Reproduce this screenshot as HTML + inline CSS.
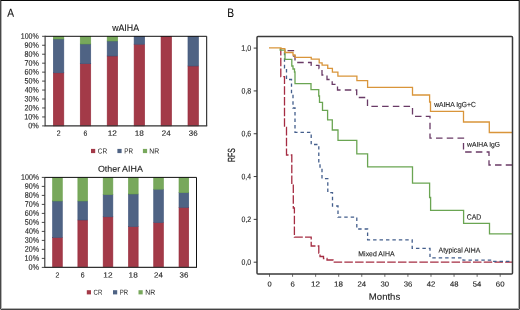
<!DOCTYPE html>
<html><head><meta charset="utf-8"><style>
html,body{margin:0;padding:0;background:#fff;}
svg{display:block;will-change:transform;} text{text-rendering:geometricPrecision;}
</style></head><body>
<svg width="520" height="310" viewBox="0 0 520 310" font-family="'Liberation Sans', sans-serif">
<rect x="0" y="0" width="520" height="310" fill="#fff"/>
<rect x="0" y="0" width="520" height="1" fill="#0a0a0a"/>
<rect x="0" y="0" width="1" height="310" fill="#474747"/>
<rect x="1" y="1" width="1" height="308" fill="#b4b4b4"/>
<rect x="519" y="0" width="1" height="310" fill="#434343"/>
<rect x="518" y="1" width="1" height="308" fill="#b0b0b0"/>
<rect x="0" y="309" width="520" height="1" fill="#434343"/>
<rect x="2" y="308" width="516" height="1" fill="#b0b0b0"/>
<rect x="519" y="309" width="1" height="1" fill="#a8a8a8"/>
<rect x="0" y="309" width="1" height="1" fill="#a8a8a8"/>
<text transform="translate(7.35,16.75) scale(0.893,1) rotate(0.05)" font-size="11.41" fill="#111" stroke="#111" stroke-width="0.12">A</text>
<text transform="translate(227.18,16.90) scale(0.830,1) rotate(0.05)" font-size="12.35" fill="#111" stroke="#111" stroke-width="0.12">B</text>
<rect x="53.32" y="72.80" width="10.5" height="53.10" fill="#a33a48" stroke="#972a3b" stroke-width="0.6"/>
<rect x="53.32" y="39.00" width="10.5" height="33.80" fill="#4f6384" stroke="#3f5479" stroke-width="0.6"/>
<rect x="53.32" y="36.30" width="10.5" height="2.70" fill="#78a85c" stroke="#69a04c" stroke-width="0.6"/>
<text transform="translate(56.64,135.80) scale(0.914,1) rotate(0.05)" font-size="7.59" fill="#222" stroke="#222" stroke-width="0.12">2</text>
<rect x="80.25" y="63.70" width="10.5" height="62.20" fill="#a33a48" stroke="#972a3b" stroke-width="0.6"/>
<rect x="80.25" y="44.00" width="10.5" height="19.70" fill="#4f6384" stroke="#3f5479" stroke-width="0.6"/>
<rect x="80.25" y="36.30" width="10.5" height="7.70" fill="#78a85c" stroke="#69a04c" stroke-width="0.6"/>
<text transform="translate(83.57,135.80) scale(0.902,1) rotate(0.05)" font-size="7.59" fill="#222" stroke="#222" stroke-width="0.12">6</text>
<rect x="107.18" y="56.00" width="10.5" height="69.90" fill="#a33a48" stroke="#972a3b" stroke-width="0.6"/>
<rect x="107.18" y="41.00" width="10.5" height="15.00" fill="#4f6384" stroke="#3f5479" stroke-width="0.6"/>
<rect x="107.18" y="36.30" width="10.5" height="4.70" fill="#78a85c" stroke="#69a04c" stroke-width="0.6"/>
<text transform="translate(107.72,135.80) scale(1.090,1) rotate(0.05)" font-size="7.59" fill="#222" stroke="#222" stroke-width="0.12">12</text>
<rect x="134.12" y="44.20" width="10.5" height="81.70" fill="#a33a48" stroke="#972a3b" stroke-width="0.6"/>
<rect x="134.12" y="36.30" width="10.5" height="7.90" fill="#4f6384" stroke="#3f5479" stroke-width="0.6"/>
<text transform="translate(134.66,135.80) scale(1.083,1) rotate(0.05)" font-size="7.59" fill="#222" stroke="#222" stroke-width="0.12">18</text>
<rect x="161.05" y="36.30" width="10.5" height="89.60" fill="#a33a48" stroke="#972a3b" stroke-width="0.6"/>
<text transform="translate(161.82,135.80) scale(1.041,1) rotate(0.05)" font-size="7.59" fill="#222" stroke="#222" stroke-width="0.12">24</text>
<rect x="187.98" y="66.00" width="10.5" height="59.90" fill="#a33a48" stroke="#972a3b" stroke-width="0.6"/>
<rect x="187.98" y="36.30" width="10.5" height="29.70" fill="#4f6384" stroke="#3f5479" stroke-width="0.6"/>
<text transform="translate(188.85,135.80) scale(1.043,1) rotate(0.05)" font-size="7.59" fill="#222" stroke="#222" stroke-width="0.12">36</text>
<path d="M45.1,36.3 H206.7 V125.9" fill="none" stroke="#111" stroke-width="1"/>
<path d="M45.1,35.8 V125.9 H207.2" fill="none" stroke="#333" stroke-width="1.1"/>
<path d="M42.1,125.90 H45.1" stroke="#333" stroke-width="0.9"/>
<text transform="translate(28.23,128.35) scale(0.923,1) rotate(0.05)" font-size="7.95" fill="#222" stroke="#222" stroke-width="0.12">0%</text>
<path d="M42.1,116.94 H45.1" stroke="#333" stroke-width="0.9"/>
<text transform="translate(24.27,119.39) scale(0.916,1) rotate(0.05)" font-size="7.95" fill="#222" stroke="#222" stroke-width="0.12">10%</text>
<path d="M42.1,107.98 H45.1" stroke="#333" stroke-width="0.9"/>
<text transform="translate(24.46,110.43) scale(0.904,1) rotate(0.05)" font-size="7.95" fill="#222" stroke="#222" stroke-width="0.12">20%</text>
<path d="M42.1,99.02 H45.1" stroke="#333" stroke-width="0.9"/>
<text transform="translate(24.55,101.47) scale(0.898,1) rotate(0.05)" font-size="7.95" fill="#222" stroke="#222" stroke-width="0.12">30%</text>
<path d="M42.1,90.06 H45.1" stroke="#333" stroke-width="0.9"/>
<text transform="translate(24.66,92.51) scale(0.891,1) rotate(0.05)" font-size="7.95" fill="#222" stroke="#222" stroke-width="0.12">40%</text>
<path d="M42.1,81.10 H45.1" stroke="#333" stroke-width="0.9"/>
<text transform="translate(24.53,83.55) scale(0.899,1) rotate(0.05)" font-size="7.95" fill="#222" stroke="#222" stroke-width="0.12">50%</text>
<path d="M42.1,72.14 H45.1" stroke="#333" stroke-width="0.9"/>
<text transform="translate(24.46,74.59) scale(0.904,1) rotate(0.05)" font-size="7.95" fill="#222" stroke="#222" stroke-width="0.12">60%</text>
<path d="M42.1,63.18 H45.1" stroke="#333" stroke-width="0.9"/>
<text transform="translate(24.45,65.63) scale(0.904,1) rotate(0.05)" font-size="7.95" fill="#222" stroke="#222" stroke-width="0.12">70%</text>
<path d="M42.1,54.22 H45.1" stroke="#333" stroke-width="0.9"/>
<text transform="translate(24.51,56.67) scale(0.901,1) rotate(0.05)" font-size="7.95" fill="#222" stroke="#222" stroke-width="0.12">80%</text>
<path d="M42.1,45.26 H45.1" stroke="#333" stroke-width="0.9"/>
<text transform="translate(24.48,47.71) scale(0.902,1) rotate(0.05)" font-size="7.95" fill="#222" stroke="#222" stroke-width="0.12">90%</text>
<path d="M42.1,36.30 H45.1" stroke="#333" stroke-width="0.9"/>
<text transform="translate(20.78,38.75) scale(0.888,1) rotate(0.05)" font-size="7.95" fill="#222" stroke="#222" stroke-width="0.12">100%</text>
<text transform="translate(112.13,31.00) scale(0.948,1) rotate(0.05)" font-size="9.30" fill="#222" stroke="#222" stroke-width="0.12">wAIHA</text>
<rect x="91" y="148.9" width="4.2" height="4.2" fill="#a33a48"/>
<text transform="translate(97.79,153.40) scale(0.890,1) rotate(0.05)" font-size="7.30" fill="#222" stroke="#222" stroke-width="0">CR</text>
<rect x="117.4" y="148.9" width="4.2" height="4.2" fill="#4f6384"/>
<text transform="translate(124.20,153.40) scale(0.852,1) rotate(0.05)" font-size="7.41" fill="#222" stroke="#222" stroke-width="0">PR</text>
<rect x="142.9" y="148.9" width="4.2" height="4.2" fill="#78a85c"/>
<text transform="translate(149.26,153.40) scale(0.929,1) rotate(0.05)" font-size="7.41" fill="#222" stroke="#222" stroke-width="0">NR</text>
<rect x="52.59" y="237.40" width="9.7" height="30.00" fill="#a33a48" stroke="#972a3b" stroke-width="0.6"/>
<rect x="52.59" y="201.00" width="9.7" height="36.40" fill="#4f6384" stroke="#3f5479" stroke-width="0.6"/>
<rect x="52.59" y="177.40" width="9.7" height="23.60" fill="#78a85c" stroke="#69a04c" stroke-width="0.6"/>
<text transform="translate(55.51,277.50) scale(0.931,1) rotate(0.05)" font-size="7.45" fill="#222" stroke="#222" stroke-width="0.12">2</text>
<rect x="77.88" y="220.00" width="9.7" height="47.40" fill="#a33a48" stroke="#972a3b" stroke-width="0.6"/>
<rect x="77.88" y="201.00" width="9.7" height="19.00" fill="#4f6384" stroke="#3f5479" stroke-width="0.6"/>
<rect x="77.88" y="177.40" width="9.7" height="23.60" fill="#78a85c" stroke="#69a04c" stroke-width="0.6"/>
<text transform="translate(80.80,277.50) scale(0.920,1) rotate(0.05)" font-size="7.45" fill="#222" stroke="#222" stroke-width="0.12">6</text>
<rect x="103.16" y="216.80" width="9.7" height="50.60" fill="#a33a48" stroke="#972a3b" stroke-width="0.6"/>
<rect x="103.16" y="194.60" width="9.7" height="22.20" fill="#4f6384" stroke="#3f5479" stroke-width="0.6"/>
<rect x="103.16" y="177.40" width="9.7" height="17.20" fill="#78a85c" stroke="#69a04c" stroke-width="0.6"/>
<text transform="translate(103.30,277.50) scale(1.111,1) rotate(0.05)" font-size="7.45" fill="#222" stroke="#222" stroke-width="0.12">12</text>
<rect x="128.44" y="226.60" width="9.7" height="40.80" fill="#a33a48" stroke="#972a3b" stroke-width="0.6"/>
<rect x="128.44" y="194.00" width="9.7" height="32.60" fill="#4f6384" stroke="#3f5479" stroke-width="0.6"/>
<rect x="128.44" y="177.40" width="9.7" height="16.60" fill="#78a85c" stroke="#69a04c" stroke-width="0.6"/>
<text transform="translate(128.59,277.50) scale(1.104,1) rotate(0.05)" font-size="7.45" fill="#222" stroke="#222" stroke-width="0.12">18</text>
<rect x="153.72" y="222.60" width="9.7" height="44.80" fill="#a33a48" stroke="#972a3b" stroke-width="0.6"/>
<rect x="153.72" y="189.20" width="9.7" height="33.40" fill="#4f6384" stroke="#3f5479" stroke-width="0.6"/>
<rect x="153.72" y="177.40" width="9.7" height="11.80" fill="#78a85c" stroke="#69a04c" stroke-width="0.6"/>
<text transform="translate(154.10,277.50) scale(1.061,1) rotate(0.05)" font-size="7.45" fill="#222" stroke="#222" stroke-width="0.12">24</text>
<rect x="179.01" y="207.40" width="9.7" height="60.00" fill="#a33a48" stroke="#972a3b" stroke-width="0.6"/>
<rect x="179.01" y="192.60" width="9.7" height="14.80" fill="#4f6384" stroke="#3f5479" stroke-width="0.6"/>
<rect x="179.01" y="177.40" width="9.7" height="15.20" fill="#78a85c" stroke="#69a04c" stroke-width="0.6"/>
<text transform="translate(179.48,277.50) scale(1.064,1) rotate(0.05)" font-size="7.45" fill="#222" stroke="#222" stroke-width="0.12">36</text>
<path d="M44.8,177.4 H196.5 V267.4" fill="none" stroke="#111" stroke-width="1"/>
<path d="M44.8,176.9 V267.4 H197.0" fill="none" stroke="#333" stroke-width="1.1"/>
<path d="M41.8,267.40 H44.8" stroke="#333" stroke-width="0.9"/>
<text transform="translate(28.53,269.85) scale(0.923,1) rotate(0.05)" font-size="7.95" fill="#222" stroke="#222" stroke-width="0.12">0%</text>
<path d="M41.8,258.40 H44.8" stroke="#333" stroke-width="0.9"/>
<text transform="translate(24.57,260.85) scale(0.916,1) rotate(0.05)" font-size="7.95" fill="#222" stroke="#222" stroke-width="0.12">10%</text>
<path d="M41.8,249.40 H44.8" stroke="#333" stroke-width="0.9"/>
<text transform="translate(24.76,251.85) scale(0.904,1) rotate(0.05)" font-size="7.95" fill="#222" stroke="#222" stroke-width="0.12">20%</text>
<path d="M41.8,240.40 H44.8" stroke="#333" stroke-width="0.9"/>
<text transform="translate(24.85,242.85) scale(0.898,1) rotate(0.05)" font-size="7.95" fill="#222" stroke="#222" stroke-width="0.12">30%</text>
<path d="M41.8,231.40 H44.8" stroke="#333" stroke-width="0.9"/>
<text transform="translate(24.96,233.85) scale(0.891,1) rotate(0.05)" font-size="7.95" fill="#222" stroke="#222" stroke-width="0.12">40%</text>
<path d="M41.8,222.40 H44.8" stroke="#333" stroke-width="0.9"/>
<text transform="translate(24.83,224.85) scale(0.899,1) rotate(0.05)" font-size="7.95" fill="#222" stroke="#222" stroke-width="0.12">50%</text>
<path d="M41.8,213.40 H44.8" stroke="#333" stroke-width="0.9"/>
<text transform="translate(24.76,215.85) scale(0.904,1) rotate(0.05)" font-size="7.95" fill="#222" stroke="#222" stroke-width="0.12">60%</text>
<path d="M41.8,204.40 H44.8" stroke="#333" stroke-width="0.9"/>
<text transform="translate(24.75,206.85) scale(0.904,1) rotate(0.05)" font-size="7.95" fill="#222" stroke="#222" stroke-width="0.12">70%</text>
<path d="M41.8,195.40 H44.8" stroke="#333" stroke-width="0.9"/>
<text transform="translate(24.81,197.85) scale(0.901,1) rotate(0.05)" font-size="7.95" fill="#222" stroke="#222" stroke-width="0.12">80%</text>
<path d="M41.8,186.40 H44.8" stroke="#333" stroke-width="0.9"/>
<text transform="translate(24.78,188.85) scale(0.902,1) rotate(0.05)" font-size="7.95" fill="#222" stroke="#222" stroke-width="0.12">90%</text>
<path d="M41.8,177.40 H44.8" stroke="#333" stroke-width="0.9"/>
<text transform="translate(21.08,179.85) scale(0.888,1) rotate(0.05)" font-size="7.95" fill="#222" stroke="#222" stroke-width="0.12">100%</text>
<text transform="translate(97.90,171.80) scale(1.040,1) rotate(0.05)" font-size="8.56" fill="#222" stroke="#222" stroke-width="0.12">Other AIHA</text>
<rect x="86.8" y="290.2" width="4.2" height="4.2" fill="#a33a48"/>
<text transform="translate(93.61,294.70) scale(0.829,1) rotate(0.05)" font-size="7.30" fill="#222" stroke="#222" stroke-width="0">CR</text>
<rect x="113" y="290.2" width="4.2" height="4.2" fill="#4f6384"/>
<text transform="translate(119.83,294.70) scale(0.809,1) rotate(0.05)" font-size="7.41" fill="#222" stroke="#222" stroke-width="0">PR</text>
<rect x="138.5" y="290.2" width="4.2" height="4.2" fill="#78a85c"/>
<text transform="translate(145.26,294.70) scale(0.929,1) rotate(0.05)" font-size="7.41" fill="#222" stroke="#222" stroke-width="0">NR</text>
<path d="M280.8,47.9 V76.7 H284.5 V127.5 H286.5 V155 H291.8 V184.5 H293.3 V208 H294.4 V237.2 H311.2 V246 H318.8 V253 H320 V256.5 H323.5 V258.5 H327 V260 H333 V262.2 H512.5" fill="none" stroke="#a52c42" stroke-width="1.3" stroke-dasharray="8.5,2.22" stroke-dashoffset="0.866"/>
<path d="M284.5,48.6 V68 H286.5 V79.5 H291.5 V94 H293 V108 H295 V132.3 H311.2 V144.5 H318.8 V163 H320 V167 H322 V178.6 H327.8 V192.6 H332.5 V206 H338 V217.2 H356.8 V229 H367.6 V239.8 H412.2 V248.4 H430 V257.8 H463 V260.2 H493 V261.3 H512.5" fill="none" stroke="#435e8c" stroke-width="1.3" stroke-dasharray="3.45,2.982" stroke-dashoffset="3.212"/>
<path d="M280.2,48.3 V50.2 H285 V59.4 H291.8 V66 H293 V69 H294.5 V72 H295 V83.7 H311 V89.7 H318.75 V96 H319.5 V102.3 H322.5 V110.3 H327.6 V119.8 H332.3 V130 H338 V140.4 H356.8 V153.9 H367.6 V166.9 H412.5 V183.1 H429.6 V197.5 H430.6 V210.3 H463.6 V223.4 H489.5 V233.9 H512.5" fill="none" stroke="#6aa552" stroke-width="1.3"/>
<path d="M284.8,49 V50.7 H293.5 V56 H295 V62.5 H311.2 V65.3 H319 V68.5 H322 V75 H327 V79.5 H332.2 V84.3 H337.5 V90 H356.7 V97.5 H367.5 V106.3 H412.5 V116.3 H430 V138.2 H463.5 V152 H489 V165 H512.5" fill="none" stroke="#693a66" stroke-width="1.3" stroke-dasharray="6.5,4.226" stroke-dashoffset="6.276"/>
<path d="M269,47.9 H281 V48.6 H284.8 V52.5 H293 V55 H295 V57.4 H311.25 V59.1 H319.2 V62.8 H322.1 V65.1 H327.75 V68.4 H332.4 V72.2 H337.9 V76.2 H356.9 V80.6 H367.6 V87.3 H412.5 V95 H429.6 V102 H430.5 V111.4 H463.5 V122 H489.3 V132.5 H512.5" fill="none" stroke="#d9953a" stroke-width="1.3"/>
<rect x="257" y="36.5" width="255.5" height="237.39999999999998" rx="1" fill="none" stroke="#3a3a3a" stroke-width="1.5"/>
<path d="M253.7,262.20 H257" stroke="#333" stroke-width="0.95"/>
<text transform="translate(241.55,264.80) scale(0.877,1) rotate(0.05)" font-size="7.88" fill="#222" stroke="#222" stroke-width="0.12">0,0</text>
<path d="M253.7,219.38 H257" stroke="#333" stroke-width="0.95"/>
<text transform="translate(241.55,221.98) scale(0.884,1) rotate(0.05)" font-size="7.88" fill="#222" stroke="#222" stroke-width="0.12">0,2</text>
<path d="M253.7,176.56 H257" stroke="#333" stroke-width="0.95"/>
<text transform="translate(241.55,179.16) scale(0.870,1) rotate(0.05)" font-size="7.88" fill="#222" stroke="#222" stroke-width="0.12">0,4</text>
<path d="M253.7,133.74 H257" stroke="#333" stroke-width="0.95"/>
<text transform="translate(241.55,136.34) scale(0.880,1) rotate(0.05)" font-size="7.88" fill="#222" stroke="#222" stroke-width="0.12">0,6</text>
<path d="M253.7,90.92 H257" stroke="#333" stroke-width="0.95"/>
<text transform="translate(241.55,93.52) scale(0.880,1) rotate(0.05)" font-size="7.88" fill="#222" stroke="#222" stroke-width="0.12">0,8</text>
<path d="M253.7,48.10 H257" stroke="#333" stroke-width="0.95"/>
<text transform="translate(241.28,50.70) scale(0.902,1) rotate(0.05)" font-size="7.88" fill="#222" stroke="#222" stroke-width="0.12">1,0</text>
<path d="M269.50,273.9 V276.79999999999995" stroke="#444" stroke-width="0.8"/>
<text transform="translate(267.43,286.60) scale(1.040,1) rotate(0.05)" font-size="7.16" fill="#222" stroke="#222" stroke-width="0.12">0</text>
<path d="M292.57,273.9 V276.79999999999995" stroke="#444" stroke-width="0.8"/>
<text transform="translate(290.40,286.60) scale(1.077,1) rotate(0.05)" font-size="7.16" fill="#222" stroke="#222" stroke-width="0.12">6</text>
<path d="M315.64,273.9 V276.79999999999995" stroke="#444" stroke-width="0.8"/>
<text transform="translate(311.04,286.60) scale(1.128,1) rotate(0.05)" font-size="7.16" fill="#222" stroke="#222" stroke-width="0.12">12</text>
<path d="M338.71,273.9 V276.79999999999995" stroke="#444" stroke-width="0.8"/>
<text transform="translate(334.12,286.60) scale(1.120,1) rotate(0.05)" font-size="7.16" fill="#222" stroke="#222" stroke-width="0.12">18</text>
<path d="M361.78,273.9 V276.79999999999995" stroke="#444" stroke-width="0.8"/>
<text transform="translate(357.41,286.60) scale(1.076,1) rotate(0.05)" font-size="7.16" fill="#222" stroke="#222" stroke-width="0.12">24</text>
<path d="M384.85,273.9 V276.79999999999995" stroke="#444" stroke-width="0.8"/>
<text transform="translate(380.58,286.60) scale(1.074,1) rotate(0.05)" font-size="7.16" fill="#222" stroke="#222" stroke-width="0.12">30</text>
<path d="M407.92,273.9 V276.79999999999995" stroke="#444" stroke-width="0.8"/>
<text transform="translate(403.65,286.60) scale(1.079,1) rotate(0.05)" font-size="7.16" fill="#222" stroke="#222" stroke-width="0.12">36</text>
<path d="M430.99,273.9 V276.79999999999995" stroke="#444" stroke-width="0.8"/>
<text transform="translate(426.83,286.60) scale(1.070,1) rotate(0.05)" font-size="7.16" fill="#222" stroke="#222" stroke-width="0.12">42</text>
<path d="M454.06,273.9 V276.79999999999995" stroke="#444" stroke-width="0.8"/>
<text transform="translate(449.91,286.60) scale(1.063,1) rotate(0.05)" font-size="7.16" fill="#222" stroke="#222" stroke-width="0.12">48</text>
<path d="M477.13,273.9 V276.79999999999995" stroke="#444" stroke-width="0.8"/>
<text transform="translate(472.84,286.60) scale(1.050,1) rotate(0.05)" font-size="7.27" fill="#222" stroke="#222" stroke-width="0.12">54</text>
<path d="M500.20,273.9 V276.79999999999995" stroke="#444" stroke-width="0.8"/>
<text transform="translate(495.82,286.60) scale(1.087,1) rotate(0.05)" font-size="7.16" fill="#222" stroke="#222" stroke-width="0.12">60</text>
<text transform="translate(368.83,299.80) scale(1.035,1) rotate(0.05)" font-size="9.25" fill="#222" stroke="#222" stroke-width="0.12">Months</text>
<g transform="translate(0,0)">
<text transform="translate(234.65,162.07) rotate(-90) scale(0.679,1)" font-size="10.31" fill="#222" stroke="#222" stroke-width="0.2">RFS</text>
</g>
<text transform="translate(434.13,107.00) scale(0.924,1) rotate(0.05)" font-size="7.30" fill="#222" stroke="#222" stroke-width="0.12">wAIHA IgG+C</text>
<text transform="translate(467.03,146.70) scale(0.984,1) rotate(0.05)" font-size="6.87" fill="#222" stroke="#222" stroke-width="0.12">wAIHA IgG</text>
<text transform="translate(466.67,219.60) scale(0.925,1) rotate(0.05)" font-size="7.45" fill="#222" stroke="#222" stroke-width="0.12">CAD</text>
<text transform="translate(358.35,256.20) scale(0.965,1) rotate(0.05)" font-size="7.18" fill="#222" stroke="#222" stroke-width="0.12">Mixed AIHA</text>
<text transform="translate(438.61,252.60) scale(0.941,1) rotate(0.05)" font-size="7.31" fill="#222" stroke="#222" stroke-width="0.12">Atypical AIHA</text>
</svg>
</body></html>
